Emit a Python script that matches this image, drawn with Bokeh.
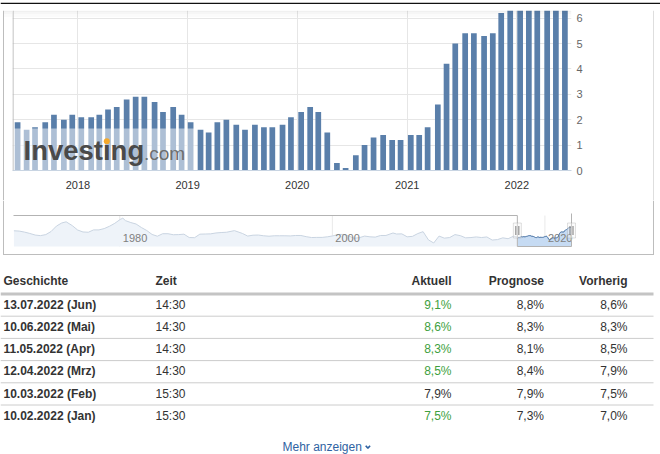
import numpy as np
import pandas as pd
from bokeh.plotting import figure
from bokeh.layouts import column, row
from bokeh.models import (Range1d, FixedTicker, DatetimeTickFormatter, BoxAnnotation,
                          ColumnDataSource)
from bokeh.core.properties import value
from bokeh.embed import file_html
from bokeh.resources import INLINE

# ---------------- data ----------------
release_dates = [
    "2017-06-14", "2017-07-14", "2017-08-11", "2017-09-14", "2017-10-13", "2017-11-15", "2017-12-13",
    "2018-01-12", "2018-02-14", "2018-03-13", "2018-04-11", "2018-05-10", "2018-06-12",
    "2018-07-12", "2018-08-10", "2018-09-13", "2018-10-11", "2018-11-14", "2018-12-12",
    "2019-01-11", "2019-02-13", "2019-03-12", "2019-04-10", "2019-05-10", "2019-06-12",
    "2019-07-11", "2019-08-13", "2019-09-12", "2019-10-10", "2019-11-13", "2019-12-11",
    "2020-01-14", "2020-02-13", "2020-03-11", "2020-04-10", "2020-05-12", "2020-06-10",
    "2020-07-14", "2020-08-12", "2020-09-11", "2020-10-13", "2020-11-12", "2020-12-10",
    "2021-01-13", "2021-02-10", "2021-03-10", "2021-04-13", "2021-05-12", "2021-06-10",
    "2021-07-13", "2021-08-11", "2021-09-14", "2021-10-13", "2021-11-10", "2021-12-10",
    "2022-01-12", "2022-02-10", "2022-03-10", "2022-04-12", "2022-05-11", "2022-06-10",
]
cpi_values = [
    1.9, 1.6, 1.7, 1.9, 2.2, 2.0, 2.2,
    2.1, 2.1, 2.2, 2.4, 2.5, 2.8, 2.9, 2.9, 2.7, 2.3, 2.5, 2.2,
    1.9, 1.6, 1.5, 1.9, 2.0, 1.8, 1.6, 1.8, 1.7, 1.7, 1.8, 2.1,
    2.3, 2.5, 2.3, 1.5, 0.3, 0.1, 0.6, 1.0, 1.3, 1.4, 1.2, 1.2,
    1.4, 1.4, 1.7, 2.6, 4.2, 5.0, 5.4, 5.4, 5.3, 5.4, 6.2, 6.8,
    7.0, 7.5, 7.9, 8.5, 8.3, 8.6,
]

nav_dates = [
    "1970-01-15", "1970-07-15", "1971-01-15", "1971-07-15", "1972-01-15", "1972-07-15",
    "1973-01-15", "1973-07-15", "1974-01-15", "1974-07-15", "1974-12-15", "1975-07-15",
    "1976-01-15", "1976-07-15", "1977-01-15", "1977-07-15", "1978-01-15", "1978-07-15",
    "1979-01-15", "1979-07-15", "1980-01-15", "1980-04-15", "1980-07-15", "1981-01-15",
    "1981-07-15", "1982-01-15", "1982-07-15", "1983-01-15", "1983-07-15", "1984-01-15",
    "1984-07-15", "1985-01-15", "1985-07-15", "1986-01-15", "1986-07-15", "1987-01-15",
    "1987-07-15", "1988-01-15", "1988-07-15", "1989-01-15", "1989-07-15", "1990-01-15",
    "1990-10-15", "1991-07-15", "1992-01-15", "1992-07-15", "1993-01-15", "1993-07-15",
    "1994-01-15", "1994-07-15", "1995-01-15", "1995-07-15", "1996-01-15", "1996-07-15",
    "1997-01-15", "1997-07-15", "1998-01-15", "1998-07-15", "1999-01-15", "1999-07-15",
    "2000-01-15", "2000-07-15", "2001-01-15", "2001-07-15", "2002-01-15", "2002-07-15",
    "2003-01-15", "2003-07-15", "2004-01-15", "2004-07-15", "2005-01-15", "2005-09-15",
    "2006-01-15", "2006-07-15", "2007-01-15", "2007-07-15", "2008-01-15", "2008-07-15",
    "2009-01-15", "2009-07-15", "2010-01-15", "2010-07-15", "2011-01-15", "2011-07-15",
    "2012-01-15", "2012-07-15", "2013-01-15", "2013-07-15", "2014-01-15", "2014-07-15",
    "2015-01-15", "2015-07-15", "2016-01-15", "2016-07-15", "2017-01-15",
]
nav_values = [
    6.2, 6.0, 5.3, 4.4, 3.3, 2.9,
    3.6, 5.7, 9.4, 11.5, 12.3, 9.7,
    6.7, 5.4, 5.2, 6.8, 6.8, 7.7,
    9.3, 11.3, 13.9, 14.8, 13.1, 11.8,
    10.8, 8.4, 6.4, 3.7, 2.5, 4.2,
    4.2, 3.5, 3.6, 3.9, 1.6, 1.5,
    3.9, 4.0, 4.1, 4.7, 5.0, 5.2,
    6.3, 4.4, 2.6, 3.2, 3.3, 2.8,
    2.5, 2.8, 2.8, 2.8, 2.7, 3.0,
    3.0, 2.2, 1.6, 1.7, 1.7, 2.1,
    2.7, 3.7, 3.7, 2.7, 1.1, 1.5,
    2.6, 2.1, 1.9, 3.0, 3.0, 4.7,
    4.0, 4.1, 2.1, 2.4, 4.3, 5.6,
    0.0, -2.1, 2.6, 1.2, 1.6, 3.6,
    2.9, 1.4, 1.6, 2.0, 1.6, 2.0,
    -0.1, 0.2, 1.4, 0.8, 2.5,
]

year_ticks = [2018, 2019, 2020, 2021, 2022]
y_ticks = [0, 1, 2, 3, 4, 5, 6]
nav_year_ticks = [1980, 2000, 2020]

header_labels = ["Geschichte", "Zeit", "Aktuell", "Prognose", "Vorherig"]
hist_dates = ["13.07.2022 (Jun)", "10.06.2022 (Mai)", "11.05.2022 (Apr)",
              "12.04.2022 (Mrz)", "10.03.2022 (Feb)", "10.02.2022 (Jan)"]
hist_times = ["14:30", "14:30", "14:30", "14:30", "15:30", "15:30"]
actual = [9.1, 8.6, 8.3, 8.5, 7.9, 7.5]
forecast = [8.8, 8.3, 8.1, 8.4, 7.9, 7.3]
previous = [8.6, 8.3, 8.5, 7.9, 7.5, 7.0]
more_label = "Mehr anzeigen"
logo_word, logo_tld = "Investing", ".com"

# ---------------- helpers / styles ----------------
FONT = "Liberation Sans"
DAY = 86400000.0
W = 660
BAR = "#5a7faa"
BORDER = "#bdbdbd"


def ms(s):
    return pd.Timestamp(s).value / 1e6


def blank(width, height, x0, x1, y_top, y_bot):
    f = figure(width=width, height=height, x_range=Range1d(x0, x1),
               y_range=Range1d(y_bot, y_top), output_backend="svg",
               toolbar_location=None, min_border=0, x_axis_location=None,
               y_axis_location=None, frame_align=False)
    f.grid.visible = False
    f.outline_line_color = None
    f.background_fill_color = "white"
    f.border_fill_color = "white"
    return f


def box(fig, l, r, t, b, color, alpha=1.0, **kw):
    fig.add_layout(BoxAnnotation(left=l, right=r, top=t, bottom=b, fill_color=color,
                                 fill_alpha=alpha, line_color=None, **kw))


# ---------------- top strip (canvas y 0..10) ----------------
top = blank(W, 10, 0, W, 0, 10)
box(top, 0, W, 0, 1.5, "#111111")
box(top, 2.5, 653.5, 8.5, 9.5, "#c4c4c4")
box(top, 3.5, 652.5, 9.5, 10, "#000000", 0.07)

# ---------------- main chart row (canvas y 10..200) ----------------
H1 = 190
PL, PR, PT, PB = 12, 571, 10, 170
RB = 653
main_x0 = ms("2017-05-28")
main_x1 = ms("2022-07-02")

left = blank(PL, H1, 0, PL, PT, PT + H1)
box(left, 2.5, 3.5, PT, PT + H1, BORDER)
box(left, 3.5, PL, PT, 11.5, "#000000", 0.06)
box(left, 3.5, PL, 11.5, 13.5, "#000000", 0.035)
box(left, 3.5, PL, 13.5, 16.5, "#000000", 0.015)

right = blank(W - RB, H1, RB, W, PT, PT + H1)
box(right, RB - 0.5, RB + 0.5, PT, PT + H1, BORDER)

p = figure(width=RB - PL, height=H1, x_axis_type="datetime",
           x_range=Range1d(main_x0, main_x1), y_range=Range1d(0, 6.3),
           y_axis_location="right", output_backend="svg", toolbar_location=None,
           min_border_left=0, min_border_right=RB - PR, min_border_top=0,
           min_border_bottom=PT + H1 - PB, frame_align=False)
p.outline_line_color = None
p.background_fill_color = "white"
p.border_fill_color = "white"
p.extra_x_ranges = {"px": Range1d(PL, PR)}
p.extra_y_ranges = {"px": Range1d(PB, PT)}

src = ColumnDataSource(dict(date=pd.to_datetime(release_dates), value=cpi_values))
p.vbar(x="date", top="value", bottom=0, width=19 * DAY, source=src,
       fill_color=BAR, line_color=None)

xa = p.xaxis[0]
xa.ticker = FixedTicker(ticks=[ms(f"{y}-01-01") for y in year_ticks])
fmt = "%Y"
xa.formatter = DatetimeTickFormatter(years=fmt, months=fmt, days=fmt, hours=fmt,
                                     hourmin=fmt, minutes=fmt, minsec=fmt, seconds=fmt,
                                     milliseconds=fmt, microseconds=fmt)
xa.axis_line_color = "#c8d4e2"
xa.major_tick_line_color = None
xa.minor_tick_line_color = None
xa.major_tick_out = 0
xa.major_tick_in = 0
xa.minor_tick_out = 0
xa.major_label_standoff = 10
xa.major_label_text_font = FONT
xa.major_label_text_font_size = "11px"
xa.major_label_text_color = "#333333"

ya = p.yaxis[0]
ya.ticker = FixedTicker(ticks=y_ticks)
ya.axis_line_color = None
ya.major_tick_line_color = None
ya.minor_tick_line_color = None
ya.major_tick_out = 0
ya.major_tick_in = 0
ya.minor_tick_out = 0
ya.major_label_standoff = 5
ya.major_label_text_font = FONT
ya.major_label_text_font_size = "11px"
ya.major_label_text_color = "#666666"

p.xgrid.grid_line_color = "#e6e6e6"
p.ygrid.grid_line_color = "#e6e6e6"

# watermark logo (glyphs drawn in canvas-pixel coordinates)
p.quad(left=PL, right=195, top=128, bottom=PB, x_range_name="px", y_range_name="px",
       fill_color="white", fill_alpha=0.5, line_color=None)
p.text(x=[23], y=[150.2], text=[logo_word], x_range_name="px", y_range_name="px",
       text_font=value(FONT), text_font_style="bold", text_font_size="27.5px",
       text_color="#4a4a4a", text_baseline="middle", text_align="left")
p.text(x=[143.5], y=[153.2], text=[logo_tld], x_range_name="px", y_range_name="px",
       text_font=value(FONT), text_font_size="19px",
       text_color="#6e6e6e", text_baseline="middle", text_align="left")
p.scatter(x=[106.3], y=[140.8], size=6, marker="circle", x_range_name="px",
          y_range_name="px", fill_color="#f4a92c", line_color=None)

# top shadow and plot left edge
box(p, PL, PR, PT, 11.5, "#000000", 0.06, x_range_name="px", y_range_name="px")
box(p, PL, PR, 11.5, 13.5, "#000000", 0.035, x_range_name="px", y_range_name="px")
box(p, PL, PR, 13.5, 16.5, "#000000", 0.015, x_range_name="px", y_range_name="px")
box(p, PL, PL + 1, PT, PB, "#b0b0b0", 1.0, x_range_name="px", y_range_name="px")

# ---------------- navigator (canvas y 200..260) ----------------
H2 = 60
NL, NR, NT, NB = 13, 571, 15, 46
nav_t0 = ms("1970-01-01")
nav_t1 = main_x1
k_x = (NR - NL) / (nav_t1 - nav_t0)
nvmin, nvmax = -4.5, 16.6
k_y = (NB - NT) / (nvmax - nvmin)

nav = figure(width=W, height=H2,
             x_range=Range1d(nav_t0 - NL / k_x, nav_t1 + (W - NR) / k_x),
             y_range=Range1d(nvmin - (H2 - NB) / k_y, nvmax + NT / k_y),
             output_backend="svg", toolbar_location=None, min_border=0,
             x_axis_location=None, y_axis_location=None, frame_align=False)
nav.grid.visible = False
nav.outline_line_color = None
nav.background_fill_color = "white"
nav.border_fill_color = "white"
nav.extra_x_ranges = {"px": Range1d(0, W)}
nav.extra_y_ranges = {"px": Range1d(H2, 0)}

all_nav_x = list(pd.to_datetime(nav_dates)) + list(pd.to_datetime(release_dates))
all_nav_y = nav_values + cpi_values

tick_x = pd.to_datetime([f"{y}-01-01" for y in nav_year_ticks])
nav.segment(x0=tick_x, x1=tick_x, y0=[NT] * len(tick_x), y1=[NB] * len(tick_x),
            y_range_name="px", line_color="#e9e9e9", line_width=1)

nav.varea(x=all_nav_x, y1=[nvmin] * len(all_nav_x), y2=all_nav_y, fill_color="#eef3f9")
nav.line(x=all_nav_x, y=all_nav_y, line_color="#c9d4e1", line_width=1)
sel_x = pd.to_datetime(release_dates)
nav.varea(x=sel_x, y1=[nvmin] * len(sel_x), y2=cpi_values, fill_color="#c6dbf3")
nav.line(x=sel_x, y=cpi_values, line_color="#4a74a6", line_width=1)

nav.text(x=tick_x, y=[37.5] * len(tick_x), text=[str(y) for y in nav_year_ticks],
         y_range_name="px", x_offset=3, text_font=value(FONT), text_font_size="11px",
         text_color="#7f7f7f", text_baseline="middle", text_align="left")

sel_l = NL + (main_x0 - nav_t0) * k_x
sel_r = NR
nav.line(x=[NL, sel_l, sel_l, sel_r, sel_r], y=[NT, NT, NB, NB, NT - 2],
         x_range_name="px", y_range_name="px", line_color="#b3b3b3", line_width=1)
for sx in (sel_l, sel_r):
    nav.add_layout(BoxAnnotation(left=sx - 4, right=sx + 4, top=22.5, bottom=37.5,
                                 x_range_name="px", y_range_name="px",
                                 fill_color="#f4f4f4", line_color="#9a9a9a", line_width=1))
    for gx in (sx - 1.5, sx + 1.5):
        box(nav, gx - 0.5, gx + 0.5, 25.5, 34.5, "#7a7a7a", 1.0,
            x_range_name="px", y_range_name="px")

for (l, r, t, b) in [(2.5, 3.5, 0, 54.5), (652.5, 653.5, 0, 54.5), (2.5, 653.5, 53.5, 54.5)]:
    box(nav, l, r, t, b, BORDER, 1.0, x_range_name="px", y_range_name="px")

# ---------------- table (canvas y 260..454) ----------------
H3 = 194
tbl = blank(W, H3, 0, W, 0, H3)

HEAD_Y = 20
HEAD_LINE = 33.5
PITCH = 22.2
n = len(hist_dates)
row_y = HEAD_LINE + 10.7 + PITCH * np.arange(n)
line_y = HEAD_LINE + PITCH * np.arange(1, n)

col_left = [3, 155]
col_right = [451, 543.5, 627]

tbl.segment(x0=[0], x1=[653], y0=[HEAD_LINE], y1=[HEAD_LINE], line_color="#c4c4c4", line_width=3)
tbl.segment(x0=[0] * len(line_y), x1=[653] * len(line_y), y0=line_y, y1=line_y,
            line_color="#cccccc", line_width=1)

common = dict(text_font=value(FONT), text_font_size="12px", text_baseline="middle")
tbl.text(x=col_left, y=[HEAD_Y] * 2, text=header_labels[:2], text_align="left",
         text_font_style="bold", text_color="#333333", **common)
tbl.text(x=col_right, y=[HEAD_Y] * 3, text=header_labels[2:], text_align="right",
         text_font_style="bold", text_color="#333333", **common)


def pct(v):
    return f"{v:.1f}%".replace(".", ",")


act_colors = ["#3e9f3e" if a > f else ("#c0392b" if a < f else "#333333")
              for a, f in zip(actual, forecast)]

tbl.text(x=[col_left[0]] * n, y=row_y, text=hist_dates, text_align="left",
         text_font_style="bold", text_color="#333333", **common)
tbl.text(x=[col_left[1]] * n, y=row_y, text=hist_times, text_align="left",
         text_color="#333333", **common)
tbl.text(x=[col_right[0]] * n, y=row_y, text=[pct(v) for v in actual], text_align="right",
         text_color=act_colors, **common)
tbl.text(x=[col_right[1]] * n, y=row_y, text=[pct(v) for v in forecast], text_align="right",
         text_color="#333333", **common)
tbl.text(x=[col_right[2]] * n, y=row_y, text=[pct(v) for v in previous], text_align="right",
         text_color="#333333", **common)

LINK = "#2f63a2"
tbl.text(x=[282], y=[186.5], text=[more_label], text_align="left", text_color=LINK, **common)
tbl.line(x=[365.2, 367.4, 369.6], y=[185.2, 187.6, 185.2], line_color=LINK, line_width=1.6)

layout = column(top, row(left, p, right, spacing=0), nav, tbl, spacing=0)
open("out.html", "w").write(file_html(layout, INLINE))
